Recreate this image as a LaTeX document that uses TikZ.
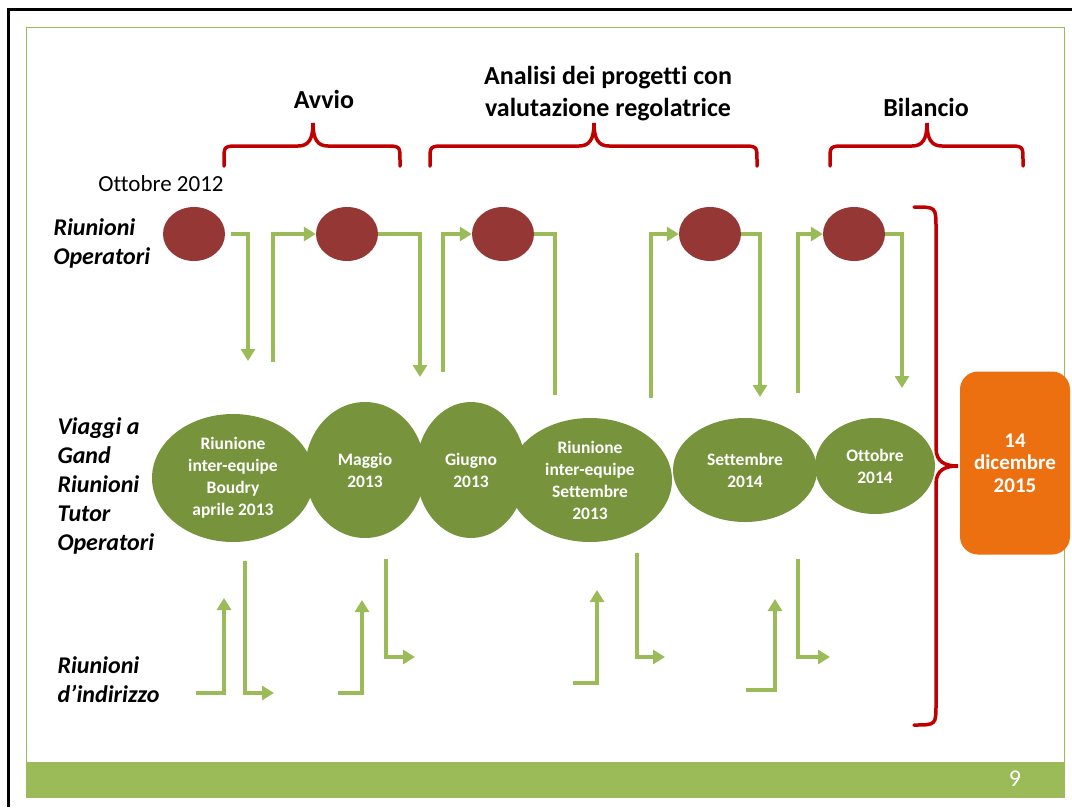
\documentclass[tikz,border=0pt]{standalone}
\usepackage{fontspec}
\setmainfont{Carlito}[Ligatures=CommonOff]
\usetikzlibrary{shapes.geometric,arrows.meta}
\definecolor{arrowgreen}{HTML}{9BBB59}
\definecolor{ovalgreen}{HTML}{77933C}
\definecolor{ovalred}{HTML}{953735}
\definecolor{bracered}{HTML}{C00000}
\definecolor{boxorange}{HTML}{EC7010}
\tikzset{
  opoval/.style={ellipse, fill=ovalred, minimum width=62pt, minimum height=54pt, inner sep=0pt},
  gandoval/.style={ellipse, fill=ovalgreen, inner sep=0pt, text=white, align=center, font=\bfseries\fontsize{17.5}{22}\selectfont},
  garrow/.style={draw=arrowgreen, line width=4pt, -{Triangle[length=12pt,width=14pt]}},
  gline/.style={draw=arrowgreen, line width=4pt},
  curly/.style={draw=bracered, line width=3.5pt, line cap=round},
  phase/.style={font=\bfseries\fontsize{26}{32}\selectfont, align=center},
  rowlabel/.style={anchor=west, align=left, font=\bfseries\itshape\fontsize{24}{29}\selectfont}
}
\begin{document}
\begin{tikzpicture}[x=1pt,y=-1pt]
\useasboundingbox[fill=white] (0,0) rectangle (1072,807);
\draw[black, line width=3pt] (8,807) -- (8,9) -- (1072,9);
\draw[arrowgreen, line width=1pt] (26,27) rectangle (1064,797);
\fill[arrowgreen] (26,762) rectangle (1064,797);
\node[text=white, font=\fontsize{24}{29}\selectfont] (page) at (1015,779) {9};

\node[phase] (avvio) at (324,99) {Avvio};
\node[phase] (analisi) at (608,94) {Analisi dei progetti con\\valutazione regolatrice};
\node[phase] (bilancio) at (926,107) {Bilancio};
\draw[curly] (224,166) -- (224,160) .. controls (224,146) .. (240,146) -- (298,146) .. controls (308,146) and (313,140) .. (313,123) .. controls (313,140) and (318,146) .. (328,146) -- (384,146) .. controls (400,146) .. (400,160) -- (400,166);
\draw[curly] (430,166) -- (430,160) .. controls (430,146) .. (446,146) -- (579,146) .. controls (589,146) and (594,140) .. (594,123) .. controls (594,140) and (599,146) .. (609,146) -- (741,146) .. controls (757,146) .. (757,160) -- (757,166);
\draw[curly] (830,166) -- (830,160) .. controls (830,146) .. (846,146) -- (912,146) .. controls (922,146) and (927,140) .. (927,123) .. controls (927,140) and (932,146) .. (942,146) -- (1007,146) .. controls (1023,146) .. (1023,160) -- (1023,166);
\draw[curly] (914,207) .. controls (936,207) .. (936,228) -- (936,448) .. controls (936,462) and (945,466) .. (958,466) .. controls (945,466) and (936,470) .. (936,484) -- (936,704) .. controls (936,725) .. (914,725);

\node[font=\fontsize{23}{28}\selectfont] (start) at (161,184) {Ottobre 2012};
\node[rowlabel] (oplabel) at (50,243) {Riunioni\\Operatori};
\node[rowlabel] (gandlabel) at (54,486) {Viaggi a\\Gand\\Riunioni\\Tutor\\Operatori};
\node[rowlabel] (indlabel) at (54,680) {Riunioni\\d’indirizzo};

\node[opoval] (op1) at (194,234) {};
\node[opoval] (op2) at (347,234) {};
\node[opoval] (op3) at (503,234) {};
\node[opoval] (op4) at (710,234) {};
\node[opoval] (op5) at (854,234) {};

\node[gandoval, minimum width=162pt, minimum height=128pt] (g1) at (233,478) {Riunione\\inter-equipe\\Boudry\\aprile 2013};
\node[gandoval, minimum width=120pt, minimum height=136pt] (g2) at (365,470) {Maggio\\2013};
\node[gandoval, minimum width=110pt, minimum height=136pt] (g3) at (471,470) {Giugno\\2013};
\node[gandoval, minimum width=164pt, minimum height=124pt] (g4) at (590,480) {Riunione\\inter-equipe\\Settembre\\2013};
\node[gandoval, minimum width=144pt, minimum height=104pt] (g5) at (745,470) {Settembre\\2014};
\node[gandoval, minimum width=120pt, minimum height=96pt] (g6) at (875,466) {Ottobre\\2014};
\node[fill=boxorange, rounded corners=18pt, minimum width=110pt, minimum height=183pt, text=white, align=center, font=\bfseries\fontsize{21}{22.5}\selectfont] (finale) at (1015,463) {14\\dicembre\\2015};

\coordinate (d1) at (248,361);
\coordinate (u1) at (273,362);
\coordinate (d2) at (420,377);
\coordinate (u2) at (443,372);
\coordinate (d3) at (555,395);
\coordinate (u3) at (651,398);
\coordinate (d4) at (760,397);
\coordinate (u4) at (798,393);
\coordinate (d5) at (902,388);
\draw[garrow] ([xshift=6pt]op1.east) -| (d1);
\draw[garrow] (u1) |- (op2.west);
\draw[garrow] (op2.east) -| (d2);
\draw[garrow] (u2) |- (op3.west);
\draw[gline] (op3.east) -| (d3);
\draw[garrow] (u3) |- (op4.west);
\draw[garrow] (op4.east) -| (d4);
\draw[garrow] (u4) |- (op5.west);
\draw[garrow] (op5.east) -| (d5);

\coordinate (ia1) at (196,693);
\coordinate (ta1) at (224,598);
\coordinate (ib1) at (245,561);
\coordinate (tb1) at (274,693);
\coordinate (ia2) at (338,693);
\coordinate (ta2) at (362,600);
\coordinate (ib2) at (386,559);
\coordinate (tb2) at (415,657);
\coordinate (ia3) at (573,683);
\coordinate (ta3) at (597,590);
\coordinate (ib3) at (637,553);
\coordinate (tb3) at (665,657);
\coordinate (ia4) at (746,690);
\coordinate (ta4) at (775,599);
\coordinate (ib4) at (798,559);
\coordinate (tb4) at (830,657);
\draw[garrow] (ia1) -| (ta1);
\draw[garrow] (ib1) |- (tb1);
\draw[garrow] (ia2) -| (ta2);
\draw[garrow] (ib2) |- (tb2);
\draw[garrow] (ia3) -| (ta3);
\draw[garrow] (ib3) |- (tb3);
\draw[garrow] (ia4) -| (ta4);
\draw[garrow] (ib4) |- (tb4);
\end{tikzpicture}
\end{document}
